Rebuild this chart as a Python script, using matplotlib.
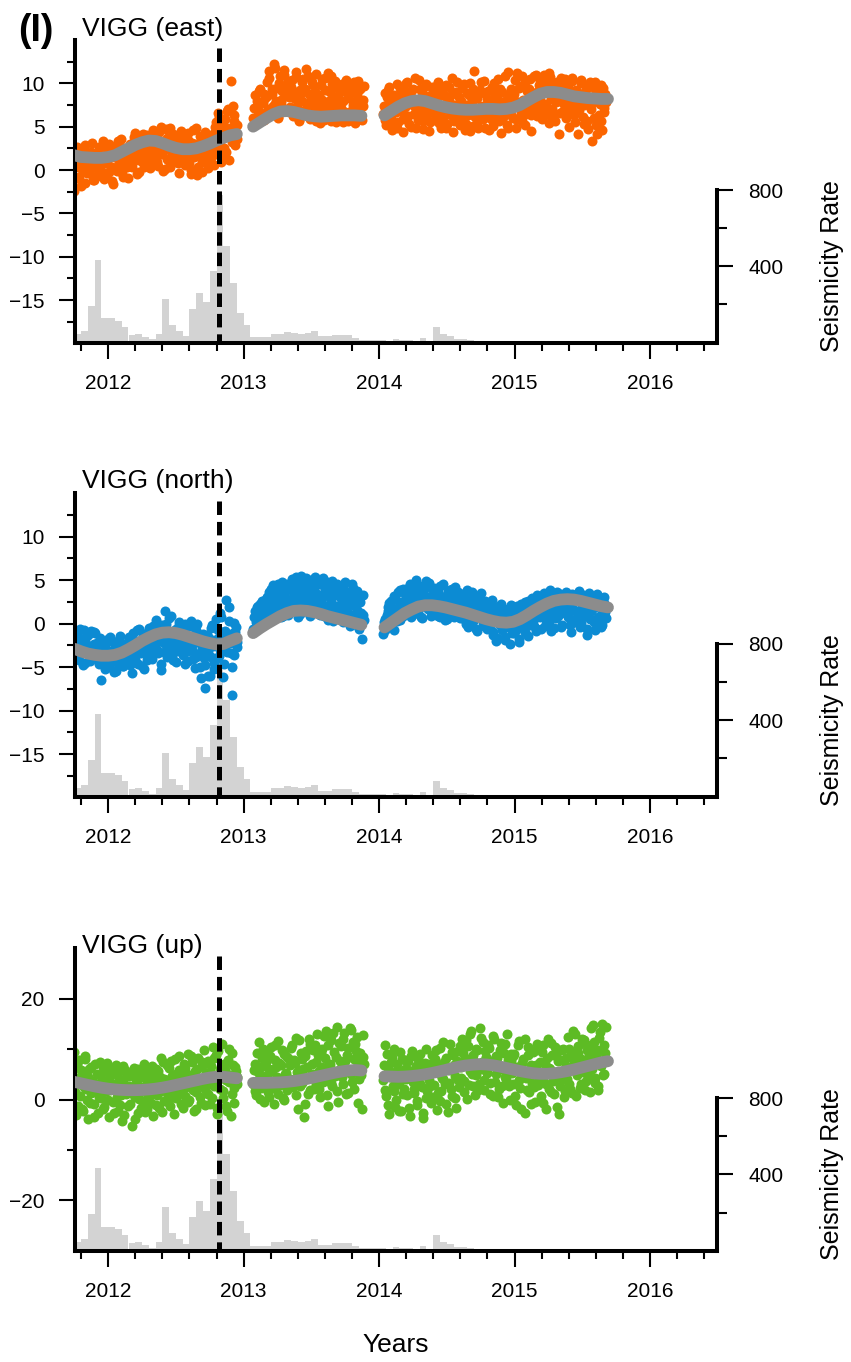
import numpy as np
import matplotlib
matplotlib.use("Agg")
import matplotlib.pyplot as plt
from matplotlib.ticker import FixedLocator
from matplotlib.transforms import blended_transform_factory

plt.rcParams['font.family'] = ['Liberation Sans', 'DejaVu Sans']
plt.rcParams['lines.scale_dashes'] = False

# ---------------- data ----------------
SAMPLE_STEP = 0.011          # GPS sampling interval of each solution set (years)
SEG_STARTS = [2011.75, 2013.07, 2014.03]
CURVE_STEP = 0.05            # smoothed-trend knot spacing (years)
CURVE_STARTS = [2011.75, 2013.07, 2014.04]
MAINSHOCK = 2012.82

# ---- east component (two interleaved solution sets per segment) ----
east_seg1 = [-2.4, 0.5, 2.6, -0.8, 1.2, 0.1, 2.2, -1.5, 0.9, 1.8, -0.3, 0.6, 3.1, -1.2, 1.4, 0.2, 2.0, -0.6, 1.1,
             3.3, -1.0, 0.8, 1.9, -0.2, 2.4, 0.4, -1.6, 1.5, 2.8, 0.0, 1.0, 3.6, -0.4, 1.7, 0.6, 2.2, -0.9,
             1.3, 2.9, 0.3, 3.8, 1.6, -0.5, 2.4, 3.2, 1.0, 4.1, 0.7, 2.6, 1.9, 3.5, 0.2, 2.1, 4.6, 1.4, 2.8,
             0.5, 3.0, 5.0, 1.8, 2.5, 0.1, 3.7, 1.2, 4.8, 2.2, 0.9, 3.3, 1.6, 2.7, -0.3, 3.9, 1.1, 2.4, 0.6,
             2.0, 4.3, 0.8, -0.5, 3.1, 1.5, 2.6, 4.9, 0.3, 1.9, 3.4, -0.2, 2.3, 1.0, 3.8, 0.7, 2.9, 1.4,
             4.2, 0.6, 5.5, 2.8, 6.1, 3.4, 1.5, 4.7, 5.9, 2.1, 7.0, 3.8, 10.3, 4.5, 6.4, 2.9, 5.2]
east_seg1_b = [1.6, -0.9, 0.3, 2.4, -1.8, 1.0, 0.7, 2.9, -0.4, 1.5, 0.0, 2.1, -1.1, 0.8, 1.9, -0.7, 2.7, 0.4, -0.2,
               0.9, 2.6, -0.6, 1.3, 3.0, 0.2, -1.3, 1.8, 2.3, -0.1, 3.4, 0.7, 1.6, -0.8, 2.5, 1.1, 0.3, 2.0,
               3.0, 0.8, 2.2, 4.3, 1.1, 2.7, -0.2, 3.6, 1.8, 0.4, 2.9, 4.0, 1.4, 3.3, 0.6, 2.5, 3.9, 1.7, 0.9,
               4.4, 1.9, 3.4, -0.1, 2.6, 4.7, 1.3, 3.1, 0.4, 2.0, 4.2, 1.7, 3.6, 0.8, 2.9, 4.5, 1.5, 3.2, 2.1,
               1.2, 3.5, 2.4, 0.0, 4.6, 1.8, 3.0, -0.6, 2.2, 3.9, 0.9, 2.7, 4.4, 1.6, 0.2, 3.3, 2.0, 4.0,
               3.1, 5.0, 1.8, 6.6, 3.9, 0.9, 5.3, 2.5, 4.4, 6.8, 1.2, 4.9, 3.2, 7.4, 5.7, 4.0, 3.6]
east_seg2 = [6.0, 8.7, 5.5, 7.4, 9.1, 6.6, 7.9, 5.8, 8.3,
             10.2, 7.0, 11.4, 6.3, 8.8, 12.2, 7.6, 9.5, 6.1, 10.8, 8.1, 7.2, 11.0, 6.8, 9.7, 8.4,
             7.3, 10.4, 6.2, 9.0, 11.3, 7.8, 5.6, 8.9, 10.1, 6.7, 9.4, 7.1, 10.9, 5.9, 8.2, 9.8, 6.5, 11.1, 7.7,
             8.6, 5.4, 10.5, 7.0, 9.2, 6.3, 11.2, 8.0, 5.7, 9.9, 7.4, 10.3, 6.0, 8.5, 9.6,
             7.2, 5.5, 9.1, 10.0, 6.4, 8.3, 5.9, 9.7, 7.5, 10.1, 6.2, 8.8, 7.0, 9.4, 5.8, 8.1]
east_seg2_b = [7.1, 5.6, 8.0, 6.4, 9.4, 5.9, 7.7, 8.8, 6.2,
               8.5, 10.6, 6.6, 9.3, 7.4, 11.8, 8.0, 6.0, 10.0, 7.8, 9.1, 11.5, 6.9, 8.7, 10.3, 7.0,
               9.6, 6.4, 8.3, 10.7, 7.4, 5.8, 9.2, 8.0, 10.5, 6.9, 11.7, 7.6, 8.8, 6.1, 10.2, 7.2, 9.0, 5.6, 8.4,
               6.7, 9.8, 8.1, 5.8, 10.6, 7.5, 6.5, 9.0, 10.9, 6.9, 8.3, 5.5, 9.5, 7.8, 6.3,
               9.9, 8.0, 6.7, 10.4, 5.6, 8.6, 9.5, 6.9, 7.8, 5.4, 9.2, 10.3, 6.5, 8.0, 7.4, 9.7]
east_seg3 = [6.5, 8.9, 5.2, 7.6, 9.6, 6.0, 4.6, 8.2, 7.1, 9.9, 5.5, 8.5, 6.8, 4.4, 9.1, 7.3,
             10.1, 6.2, 8.8, 5.0, 9.4, 7.4, 4.9, 8.0, 10.4, 6.6, 9.0, 5.6, 7.8, 9.7, 6.9, 4.5, 8.6, 7.2,
             9.3, 5.8, 7.9, 10.2, 6.4, 4.8, 8.7, 7.0, 9.8, 5.3, 8.1, 6.7, 10.6, 4.4, 7.5, 9.0, 6.1, 8.4,
             5.7, 9.5, 7.2, 4.6, 8.9, 6.3, 10.0, 7.7, 5.1, 11.4, 6.8, 8.3, 4.9, 9.2, 7.4, 5.9, 10.3, 6.5,
             8.2, 4.6, 7.0, 9.6, 5.5, 8.6, 6.2, 10.5, 7.5, 4.3, 9.0, 6.6, 8.0, 5.2, 11.3, 7.1, 9.4,
             6.0, 8.8, 4.8, 11.2, 7.3, 9.7, 5.6, 8.1, 10.2, 6.5, 7.7, 9.3, 4.5, 8.6, 10.8, 6.9, 9.0, 7.4,
             10.4, 6.7, 8.9, 11.0, 7.6, 9.8, 5.4, 10.7, 8.2, 6.2, 9.5, 7.9, 10.1, 4.2, 8.7, 9.9, 6.8, 10.5,
             7.3, 9.6, 5.0, 8.4, 10.3, 6.4, 9.1, 7.7, 4.1, 8.8, 10.0, 6.1, 7.5, 9.4, 5.6, 8.0, 10.2,
             3.3, 7.9, 9.3, 5.2, 8.6, 6.4, 9.8, 4.6, 7.2, 8.8]
east_seg3_b = [7.4, 5.8, 8.4, 9.2, 6.3, 7.9, 5.1, 8.7, 6.7, 4.9, 8.0, 9.5, 7.0, 5.9, 8.3, 10.0,
               7.6, 5.3, 9.1, 8.3, 6.5, 10.6, 7.0, 5.8, 9.3, 8.1, 4.7, 7.5, 9.9, 6.3, 8.5, 5.5, 9.6, 7.9,
               6.6, 8.4, 10.0, 5.4, 7.3, 9.1, 6.0, 8.5, 4.9, 7.8, 9.6, 6.3, 8.8, 5.7, 7.1, 10.1, 6.9, 5.2,
               8.0, 6.4, 9.9, 5.3, 7.5, 8.7, 4.5, 7.9, 9.4, 6.1, 8.5, 5.6, 7.1, 10.2, 6.6, 8.9, 4.8, 7.6,
               9.1, 6.0, 7.8, 5.1, 10.0, 6.8, 8.4, 5.7, 9.3, 7.2, 6.1, 10.8, 7.9, 4.9, 8.7, 6.4, 7.6,
               8.3, 10.4, 5.9, 7.8, 9.5, 6.6, 10.9, 8.0, 5.2, 9.1, 7.0, 10.5, 6.4, 8.9, 7.5, 11.0, 6.2, 9.8,
               8.1, 5.9, 10.2, 7.4, 9.3, 6.5, 11.2, 8.6, 7.0, 10.0, 5.7, 9.0, 8.3, 6.6, 10.6, 7.7, 9.4, 6.0,
               9.9, 8.1, 6.6, 10.6, 7.1, 5.5, 9.2, 8.5, 6.9, 10.4, 7.6, 5.3, 9.0, 8.2, 4.7, 9.7, 7.0,
               8.4, 6.0, 10.1, 4.2, 8.9, 7.6, 5.6, 9.5, 6.7, 7.8]

# ---- north component ----
north_seg1 = [-3.6, -1.2, -2.8, -4.2, -0.6, -3.1, -2.0, -4.5, -1.5, -3.4, -2.6, -0.9, -3.9, -2.3, -1.1, -4.0, -2.9, -1.7,
              -6.5, -3.3, -4.6, -2.2, -3.8, -5.0, -1.6, -3.5, -4.3, -2.7, -5.4, -3.0, -1.9, -4.1, -3.6, -4.9, -2.4, -3.2,
              -4.4, -1.5, -3.3, -5.7, -2.1, -3.9, -0.8, -4.6, -2.6, -3.0, -1.2, -5.2, -2.3, -3.7, -0.5, -2.9, -4.1, -1.8,
              -2.6, 0.4, -3.4, -1.3, -5.3, -0.2, -2.2, 1.4, -3.8, -1.0, -2.9, 0.9, -4.2, -1.6, -0.6, -3.1, 0.2, -2.0,
              -1.4, -3.6, -0.1, -2.5, -4.3, -1.9, 0.3, -3.0, -2.2, -5.1, -0.8, -3.5, -1.7, -6.3, -2.8, -4.0, -7.4, -1.3,
              -3.2, -6.0, -0.5, -2.6, -4.5, 0.5, -1.8, -3.7, 1.2, -2.3, -6.1, -0.9, 2.7, -1.4, 1.9, -3.4, -8.2, 0.1, -1.0, -2.1]
north_seg1_b = [-2.4, -4.0, -1.6, -3.3, -2.1, -4.8, -0.8, -3.0, -2.5, -1.3, -4.3, -2.7, -3.6, -1.0, -3.1, -2.2, -4.6, -1.9,
                -4.1, -2.6, -5.2, -3.0, -1.8, -4.4, -3.2, -2.0, -5.6, -3.8, -2.5, -4.7, -1.4, -3.4, -4.9, -2.8, -3.9, -2.2,
                -3.0, -4.8, -2.4, -1.1, -3.6, -4.4, -2.0, -0.6, -3.4, -4.9, -1.6, -2.8, -4.2, -1.0, -3.3, -2.1, -0.3, -2.6,
                -1.1, -3.0, -2.0, -0.4, -4.6, -1.7, -3.3, -0.1, -2.5, 0.6, -1.9, -3.6, -0.9, -2.4, -4.4, -1.2, -0.2, -3.1,
                -2.6, -0.6, -4.6, -1.8, -3.2, -0.3, -2.4, -4.1, -1.3, -3.8, 0.0, -2.1, -5.0, -3.0, -1.2, -4.8, -2.3, -6.0,
                -1.7, -3.9, -0.2, -5.2, -2.0, -4.0, -0.7, -3.0, 0.8, -2.6, -4.7, -1.5, -3.3, 0.3, -2.2, -5.0, -1.1, -3.6, -0.4, -2.7]
north_seg2 = [-0.6, 1.4, 0.2, 2.0, -0.3, 1.1, 2.6, 0.5, 1.8,
              3.1, 0.8, 2.4, 4.0, 1.5, 3.5, 0.6, 2.9, 4.6, 1.9, 3.3, 0.9, 4.2, 2.2, 3.8, 1.3,
              2.7, 5.1, 1.6, 3.6, 4.4, 0.7, 2.9, 5.5, 3.2, 1.4, 4.8, 2.3, 3.9, 0.9, 5.0, 2.6, 4.1, 1.8, 3.4,
              4.6, 1.0, 3.0, 5.2, 2.0, 3.7, 0.4, 4.3, 2.5, 4.9, 1.2, 3.3, 0.6, 4.0, 2.1,
              3.5, 0.2, 2.7, 4.8, 1.4, 3.1, -0.3, 2.2, 4.1, 0.8, 3.2, 1.6, -0.6, 2.5, -1.8, 1.0]
north_seg2_b = [0.7, -0.9, 1.9, 0.3, 2.3, -0.1, 1.4, 0.1, 2.8,
                1.8, 3.6, 0.4, 2.0, 4.4, 2.8, 1.1, 3.7, 2.4, 0.7, 4.8, 1.7, 3.0, 4.5, 1.0, 2.6,
                4.2, 1.9, 3.3, 5.3, 2.1, 3.9, 1.1, 4.6, 2.5, 3.6, 5.2, 1.5, 3.0, 4.3, 2.0, 3.7, 5.4, 2.8, 1.2,
                3.1, 4.5, 2.2, 0.9, 3.8, 4.8, 1.6, 2.9, 4.1, 0.3, 3.5, 2.0, 4.6, 1.3, 3.0,
                1.8, 4.3, 2.4, 0.5, 3.6, 1.1, 2.8, 4.5, 0.0, 2.0, 3.7, 0.7, 2.9, 1.2, 3.3, 0.4]
north_seg3 = [-1.2, 0.5, -0.3, 1.4, 2.4, 0.1, 1.8, -0.8, 2.9, 1.0, 3.6, 0.4, 2.2, 4.0, 1.3, 2.7,
              3.9, 1.5, 4.6, 0.8, 2.6, 3.3, 5.0, 1.2, 2.9, 4.3, 0.6, 3.7, 2.0, 4.9, 1.7, 3.0, 0.9, 2.4,
              4.1, 1.1, 2.8, 3.6, 0.7, 2.2, 4.5, 1.6, 3.2, 0.5, 2.6, 3.9, 1.3, 2.0, 4.2, 0.9, 2.9, 1.5,
              3.4, 0.6, 2.1, 1.4, 3.8, -0.4, 1.8, 2.6, 0.3, 3.1, 1.0, -0.9, 2.4, 1.6, 3.5, 0.1, 1.2, 2.0,
              -0.6, 1.5, 0.4, 2.7, -1.3, 0.9, -2.0, 1.9, 0.0, 2.3, -0.8, 1.1, -1.6, 0.6, 1.7, -2.4, 0.3,
              1.3, -1.1, 0.5, 2.0, -2.1, 0.8, 1.6, -0.5, 2.5, 0.2, -1.4, 1.9, 0.7, 2.9, -0.3, 1.4, 3.3, 0.9,
              2.2, -0.6, 1.7, 3.5, 0.4, 2.6, 1.1, 3.8, -0.9, 2.0, 3.0, 0.6, 2.4, 1.5, 3.4, -0.2, 2.8, 1.2,
              3.6, 0.7, 2.3, -1.0, 1.8, 3.1, 0.2, 2.7, 1.4, -0.4, 2.5, 3.3, 0.9, 1.9, -1.3, 2.6, 0.5,
              1.7, 3.2, -0.7, 2.1, 0.4, 2.9, 1.0, -0.2, 2.4, 1.3]
north_seg3_b = [0.2, -0.8, 1.0, 1.9, -0.2, 2.6, 0.7, 3.2, 1.5, 0.3, 2.5, 3.9, 1.8, 0.9, 3.4, 2.0,
                2.1, 4.2, 3.0, 1.0, 3.6, 2.3, 4.4, 1.4, 3.4, 0.8, 2.7, 4.0, 1.9, 3.1, 4.7, 2.5, 1.3, 3.8,
                2.2, 3.4, 0.9, 2.9, 4.3, 1.7, 3.0, 0.4, 2.4, 3.7, 1.2, 2.7, 4.0, 0.8, 3.3, 1.9, 3.6, 0.6,
                2.3, 1.2, 3.1, -0.1, 2.7, 0.9, 1.9, 3.6, 0.4, 2.2, -0.6, 1.5, 2.9, 0.7, 1.9, -0.3, 2.6, 0.8,
                1.2, -0.2, 2.1, -1.0, 1.4, 0.6, -1.7, 1.0, 2.0, -0.5, 0.9, -1.9, 1.6, -0.4, 0.2, 2.1, -1.1,
                0.4, 1.8, -0.7, 1.1, -1.8, 2.3, 0.0, 1.2, -1.0, 1.7, 2.6, -0.2, 1.0, 2.1, 0.5, -0.9, 2.4, 1.6,
                0.8, 3.0, 1.3, -0.3, 2.9, 1.9, 0.2, 3.3, 1.6, -0.5, 2.5, 3.6, 0.9, 2.1, -0.4, 3.1, 1.7, 2.7,
                1.1, 2.9, -0.2, 3.4, 1.5, 0.5, 2.8, 1.2, 3.7, 0.1, 2.0, 1.0, 3.0, -0.6, 2.2, 3.5, 1.4,
                2.6, 0.2, 1.9, 3.4, 0.8, 2.2, -0.4, 1.6, 3.0, 0.6]

# ---- up component ----
up_seg1 = [9.5, -3.0, 4.2, 7.8, 0.6, -1.9, 5.3, 8.6, 2.1, -3.8, 6.0, 1.3, 3.7, -0.9, 7.1, 2.8, -2.6, 4.9,
           0.2, 6.4, -1.4, 3.2, 7.3, -3.4, 1.9, 5.1, -0.5, 2.6, 6.8, -2.2, 4.0, 0.9, -4.2, 3.5, 5.9, 1.1,
           -1.2, 4.6, 2.3, -5.2, 6.2, 0.4, 3.0, -2.7, 5.4, 1.7, -0.3, 7.0, 2.9, -1.8, 4.3, 0.8, 6.6, -3.2,
           3.3, -1.0, 5.7, 1.5, 8.2, -2.4, 4.1, 2.2, 6.9, -0.4, 3.6, 7.6, 0.5, -2.8, 5.0, 2.7, 8.7, 1.2,
           4.8, -1.6, 6.3, 2.4, 9.0, 0.0, 3.9, 7.4, -2.3, 5.6, 1.4, 8.3, 3.1, -0.7, 6.7, 9.8, 2.0, 4.5,
           7.7, -0.8, 5.2, 10.4, 2.6, 8.8, -2.9, 4.0, 6.1, 11.0, 1.6, 5.8, -1.3, 7.9, 3.4, -3.3, 9.2, 2.3, 6.4, 4.4]
up_seg1_b = [1.4, 6.9, -1.2, 3.0, 5.8, -2.2, 2.4, 8.0, 0.0, 4.5, -0.6, 6.5, 3.4, -3.5, 1.8, 5.1, 0.5, 7.4,
             3.8, -1.8, 5.6, 1.6, -0.1, 4.3, 2.0, 6.1, -2.6, 3.0, 0.5, 5.3, -1.0, 2.2, 6.7, -3.1, 1.4, 4.8,
             2.7, -0.8, 5.1, 1.0, -3.8, 3.8, 6.0, 0.1, -1.6, 4.4, 2.5, -2.4, 5.6, 0.6, 3.2, -0.7, 4.9, 1.9,
             6.1, 0.9, -1.7, 4.5, 2.8, 7.4, -0.2, 3.9, 1.3, 6.3, -1.3, 4.7, 2.0, 8.0, 0.3, 3.4, 5.9, -0.9,
             2.2, 7.0, 0.7, 5.0, -0.5, 3.5, 8.6, 1.9, 4.8, -1.9, 6.0, 2.8, 0.4, 7.5, 3.7, -1.1, 5.3, 1.0,
             3.0, 6.7, 0.3, 8.2, 4.6, -1.7, 9.6, 2.1, 5.5, 0.2, 7.1, 3.8, -2.2, 10.1, 4.9, 1.0, 6.9, -0.6, 5.6, 3.0]
up_seg2 = [3.1, 7.0, 0.9, 5.4, 11.4, 2.2, 8.3, -0.5, 4.6,
           9.6, 1.5, 6.1, 10.5, 3.7, -0.8, 7.8, 4.4, 11.6, 2.8, 6.8, 0.3, 9.1, 5.2, 1.9, 8.0,
           4.0, 10.8, 2.4, 7.2, 12.3, -1.9, 5.9, 9.3, 3.2, -3.4, 8.6, 6.4, 1.1, 11.1, 4.8, 9.9, 2.0, 7.5, 12.9,
           5.6, 0.4, 10.0, 3.5, 8.2, 13.6, -1.2, 6.9, 11.8, 2.6, 9.4, 4.7, 14.4, -0.4, 7.7,
           10.6, 3.0, 13.2, 6.2, 8.9, 1.3, 14.1, 5.0, 11.5, 2.1, 9.7, 12.4, 4.1, 7.3, -1.8, 8.4]
up_seg2_b = [5.8, 1.6, 9.2, 3.9, 0.1, 6.4, 10.1, 2.7, 7.4,
             4.7, 0.5, 8.6, 5.6, 2.3, 10.9, 6.4, 1.0, 7.2, 3.6, 9.8, 0.0, 5.1, 8.4, 2.9, 6.8,
             10.2, 3.8, 7.9, 0.9, 5.4, 11.8, 2.7, 8.1, 6.0, -0.9, 9.6, 4.3, 12.0, 1.8, 7.0, 5.0, 10.9, 3.0, 8.8,
             2.0, 9.2, 6.5, 12.6, 4.1, 0.9, 10.8, 7.0, 3.2, 13.2, 5.6, 8.5, 1.6, 11.3, 6.0,
             4.4, 12.0, 7.6, 1.0, 10.2, 5.7, 13.7, 3.4, 8.0, 11.0, 6.5, -0.6, 9.3, 4.9, 12.8, 7.0]
up_seg3 = [3.9, 10.9, 0.6, 6.2, -2.9, 4.8, 8.4, 1.7, -1.5, 7.0, 3.1, 9.5, -2.3, 5.5, 2.0, 7.8,
           0.9, 5.9, -3.2, 8.6, 3.4, 1.2, 6.6, -1.1, 4.5, 9.0, 2.5, -3.7, 7.3, 0.2, 5.0, 3.8, -0.6, 6.9,
           2.9, 8.1, -2.0, 5.3, 10.2, 1.6, 4.0, 7.5, -0.9, 6.1, 3.2, 11.1, 0.7, 8.8, 4.7, -1.6, 9.6, 2.4,
           6.5, 12.0, 3.6, 8.3, 0.1, 10.7, 5.6, 13.5, 2.7, 7.7, 4.9, 9.9, 1.8, 14.2, 6.0, 11.4, 3.9, 8.5,
           5.4, 10.3, 1.1, 7.1, 12.6, 3.5, 8.7, 0.4, 6.3, 11.2, 2.6, 9.3, 4.4, 13.0, 5.8, 0.0, 7.6,
           3.0, 9.1, -1.0, 6.4, 11.7, 2.2, 5.1, 8.0, -2.6, 4.2, 10.4, 1.4, 6.8, 3.3, 9.7, -0.4, 5.9, 2.8,
           7.4, 0.6, 10.8, 4.6, -1.9, 8.2, 2.0, 6.0, 11.3, 3.6, 1.0, 9.0, 5.2, -2.8, 7.9, 4.0, 10.1, 1.7,
           6.7, 12.4, 3.1, 9.4, 1.3, 7.2, 13.0, 4.8, 10.6, 2.3, 8.1, 5.5, 11.8, 3.7, 9.8, 6.3, 1.5,
           10.2, 14.7, 4.3, 8.6, 2.6, 12.2, 6.6, 15.0, 5.0, 9.2]
up_seg3_b = [6.8, 1.9, 9.0, -1.0, 4.4, 7.4, 2.6, 10.0, 0.0, 5.8, -2.3, 3.6, 8.0, 1.0, 6.1, 4.0,
             7.7, -1.7, 4.0, 9.6, 2.0, 5.6, -0.3, 8.0, 3.0, 6.2, -2.6, 4.8, 10.0, 1.6, 7.0, 2.7, 8.9, 0.5,
             5.5, 9.8, 1.2, 6.6, -0.2, 4.3, 11.5, 3.0, 8.2, -2.5, 5.9, 2.0, 9.4, 6.8, 0.3, 7.6, 3.9, 10.6,
             4.2, 9.3, 1.4, 11.8, 6.9, 2.9, 13.0, 5.0, 8.9, 0.8, 10.1, 6.2, 3.0, 12.3, 7.4, 1.9, 9.6, 5.3,
             10.9, 3.2, 7.6, 0.6, 12.0, 5.1, 8.2, 2.0, 9.9, 6.0, -0.6, 11.0, 4.0, 7.8, 2.7, 9.0, 5.2,
             8.6, 0.7, 6.0, 10.9, 3.8, -1.8, 7.3, 4.8, 12.0, 1.8, 8.8, 5.6, -0.9, 9.5, 2.5, 6.9, 11.0, 3.9,
             5.0, 9.4, -0.7, 7.1, 3.1, 12.0, 6.2, 1.4, 8.8, 4.3, 10.5, -1.5, 7.6, 2.6, 9.9, 5.6, 0.4, 8.3,
             4.1, 10.0, 2.0, 8.4, 13.6, 5.9, 0.6, 9.2, 6.9, 3.0, 12.1, 7.7, 1.8, 10.9, 4.6, 8.8, 14.2,
             6.0, 11.5, 3.3, 9.8, 1.9, 13.4, 7.6, 4.8, 10.8, 14.4]

# smoothed trends
east_trend = [
    [1.7, 1.5, 1.45, 1.4, 1.4, 1.5, 1.7, 2.1, 2.5, 2.9, 3.2, 3.4, 3.35, 3.1, 2.8, 2.55, 2.4, 2.4, 2.5,
     2.75, 3.05, 3.4, 3.7, 4.0, 4.15],
    [5.0, 5.5, 6.0, 6.45, 6.75, 6.8, 6.7, 6.5, 6.3, 6.2, 6.15, 6.2, 6.25, 6.3, 6.3, 6.3, 6.25],
    [6.3, 6.8, 7.3, 7.7, 7.95, 8.05, 7.95, 7.7, 7.45, 7.25, 7.1, 7.0, 6.95, 6.95, 7.0, 7.05, 7.05, 7.0,
     7.05, 7.2, 7.5, 7.95, 8.4, 8.8, 9.0, 9.0, 8.9, 8.7, 8.5, 8.4, 8.3, 8.25, 8.2, 8.2],
]
north_trend = [
    [-2.9, -3.2, -3.45, -3.6, -3.7, -3.7, -3.6, -3.35, -2.95, -2.5, -2.0, -1.6, -1.25, -1.05, -1.0,
     -1.1, -1.3, -1.55, -1.8, -2.05, -2.25, -2.4, -2.35, -2.0, -1.7],
    [-1.1, -0.55, -0.05, 0.4, 0.85, 1.2, 1.45, 1.5, 1.45, 1.3, 1.1, 0.85, 0.65, 0.45, 0.25, 0.05, -0.15],
    [-0.45, 0.1, 0.65, 1.2, 1.6, 1.95, 2.1, 2.1, 2.0, 1.85, 1.65, 1.45, 1.25, 1.0, 0.75, 0.5, 0.3, 0.15,
     0.1, 0.2, 0.5, 0.95, 1.45, 1.9, 2.3, 2.6, 2.75, 2.8, 2.75, 2.6, 2.4, 2.2, 2.0, 1.85],
]
up_trend = [
    [3.5, 3.2, 2.9, 2.6, 2.35, 2.15, 2.0, 1.9, 1.85, 1.85, 1.9, 2.0, 2.15, 2.35, 2.6, 2.9, 3.2, 3.5,
     3.8, 4.1, 4.35, 4.5, 4.5, 4.35, 4.2],
    [3.3, 3.3, 3.3, 3.35, 3.4, 3.5, 3.65, 3.85, 4.1, 4.4, 4.7, 5.0, 5.3, 5.55, 5.75, 5.85, 5.75],
    [4.6, 4.55, 4.5, 4.55, 4.65, 4.8, 5.0, 5.25, 5.55, 5.85, 6.2, 6.5, 6.75, 6.9, 7.0, 6.95, 6.8, 6.55,
     6.25, 5.95, 5.65, 5.4, 5.2, 5.1, 5.1, 5.2, 5.4, 5.65, 5.95, 6.3, 6.65, 7.0, 7.35, 7.6],
]

# seismicity rate histogram
HIST_START = 2011.75
HIST_WIDTH = 0.05
seis_rate = [44, 59, 194, 432, 126, 126, 114, 82, 38, 44, 30, 16, 44, 227, 91, 61, 33, 175, 262, 210,
             376, 773, 505, 313, 156, 94, 27, 27, 27, 45, 45, 54, 50, 44, 50, 61, 32, 32, 39, 39, 39,
             25, 12, 14, 14, 12, 10, 20, 13, 12, 10, 25, 10, 80, 44, 33, 17, 17, 13, 9, 5, 4, 3]

# ---------------- figure ----------------
W, H = 851, 1362
fig = plt.figure(figsize=(W / 100, H / 100), dpi=100)

SPINE_W = 2.9
TICK_W = 1.5
TICK_FS = 15


def px_rect(left, top, right, bottom):
    return [left / W, 1 - bottom / H, (right - left) / W, (bottom - top) / H]


def draw_panel(top, bottom, series, trends, color, ylim, major, minor, title, title_y):
    axg = fig.add_axes(px_rect(75, top, 717, bottom))
    axh = axg.twinx()
    axg.set_zorder(axh.get_zorder() + 1)
    axg.patch.set_visible(False)

    # seismicity histogram (right axis)
    edges = HIST_START + HIST_WIDTH * np.arange(len(seis_rate))
    axh.bar(edges, seis_rate, width=HIST_WIDTH, align='edge', color='#d3d3d3', linewidth=0)
    axh.set_ylim(0, 1587)
    axh.yaxis.set_major_locator(FixedLocator([400, 800]))
    axh.yaxis.set_minor_locator(FixedLocator([200, 600]))
    axh.tick_params(axis='y', which='major', direction='out', length=11.5, width=TICK_W,
                    labelsize=TICK_FS, pad=11)
    axh.tick_params(axis='y', which='minor', direction='out', length=7, width=TICK_W)
    for s in ('left', 'top', 'bottom'):
        axh.spines[s].set_visible(False)
    axh.spines['right'].set_linewidth(SPINE_W)
    axh.spines['right'].set_bounds(0, 800)
    tr = blended_transform_factory(axh.transAxes, axh.transData)
    axh.text(1.179, 400, 'Seismicity Rate', rotation=90, ha='center', va='center',
             fontsize=18, transform=tr)

    # GPS displacement (left axis): two solution sets, offset by half a sample
    for start, (vals_a, vals_b) in zip(SEG_STARTS, series):
        xa = start + SAMPLE_STEP * np.arange(len(vals_a))
        xb = start + SAMPLE_STEP * (np.arange(len(vals_b)) + 0.5)
        axg.scatter(xa, vals_a, s=52, color=color, linewidths=0, zorder=2)
        axg.scatter(xb, vals_b, s=52, color=color, linewidths=0, zorder=2)
    for start, vals in zip(CURVE_STARTS, trends):
        x = start + CURVE_STEP * np.arange(len(vals))
        axg.plot(x, vals, color='#8c8c8c', lw=8.5, solid_capstyle='round', zorder=3)

    axg.plot([MAINSHOCK, MAINSHOCK], [0.973, 0.0], transform=axg.get_xaxis_transform(),
             color='black', lw=3.6, linestyle=(0, (9.7, 5.0)), zorder=5, clip_on=False)

    axg.set_xlim(2011.755, 2016.495)
    axg.set_ylim(*ylim)
    axg.xaxis.set_major_locator(FixedLocator([2012, 2013, 2014, 2015, 2016]))
    axg.xaxis.set_minor_locator(FixedLocator(np.round(np.arange(2011.8, 2016.45, 0.2), 1)))
    axg.yaxis.set_major_locator(FixedLocator(major))
    axg.yaxis.set_minor_locator(FixedLocator(minor))
    axg.tick_params(which='major', direction='out', length=11.5, width=TICK_W,
                    labelsize=TICK_FS, pad=10.5)
    axg.tick_params(which='minor', direction='out', length=6, width=TICK_W)
    axg.tick_params(axis='x', which='major', pad=11)
    for s in ('top', 'right'):
        axg.spines[s].set_visible(False)
    for s in ('left', 'bottom'):
        axg.spines[s].set_linewidth(SPINE_W)
    axg.text(0.011, title_y, title, transform=axg.transAxes, ha='left', va='baseline',
             fontsize=19)
    return axg


draw_panel(40, 342.5,
           [(east_seg1, east_seg1_b), (east_seg2, east_seg2_b), (east_seg3, east_seg3_b)],
           east_trend, '#fb6500', (-19.9, 15.0), [-15, -10, -5, 0, 5, 10],
           [-17.5, -12.5, -7.5, -2.5, 2.5, 7.5, 12.5], 'VIGG (east)', 1.013)
draw_panel(493, 796.7,
           [(north_seg1, north_seg1_b), (north_seg2, north_seg2_b), (north_seg3, north_seg3_b)],
           north_trend, '#0c8bd3', (-19.9, 15.0), [-15, -10, -5, 0, 5, 10],
           [-17.5, -12.5, -7.5, -2.5, 2.5, 7.5, 12.5], 'VIGG (north)', 1.016)
draw_panel(948.3, 1250.7,
           [(up_seg1, up_seg1_b), (up_seg2, up_seg2_b), (up_seg3, up_seg3_b)],
           up_trend, '#5dbb24', (-30, 30), [-20, 0, 20], [-10, 10], 'VIGG (up)', 0.983)

fig.text(18 / W, 1 - 41 / H, '(I)', fontsize=27, fontweight='bold', ha='left', va='baseline')
fig.text(396 / W, 1 - 1352 / H, 'Years', fontsize=19, ha='center', va='baseline')

fig.savefig('out.png', dpi=100)
